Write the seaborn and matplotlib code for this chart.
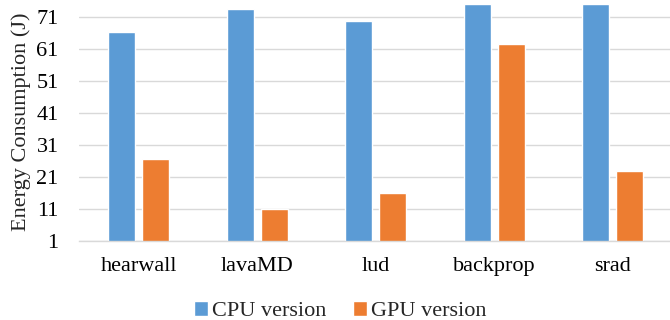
import pandas as pd
import matplotlib
matplotlib.use('Agg')
import matplotlib.pyplot as plt
import seaborn as sns

# ===== 数据 =====
benchmarks = ['hearwall', 'lavaMD', 'lud', 'backprop', 'srad']
cpu_energy = [66.4, 73.4, 69.6, 75.0, 75.0]
gpu_energy = [26.6, 11.0, 16.0, 62.6, 22.9]
y_ticks = [1, 11, 21, 31, 41, 51, 61, 71]

# ===== 样式参数 =====
FONT_SIZE = 16
CPU_COLOR = '#5B9BD5'
GPU_COLOR = '#ED7D31'
GRID_COLOR = '#D9D9D9'

sns.set_style('white')
plt.rcParams['font.family'] = ['Liberation Serif', 'DejaVu Serif']

df = pd.DataFrame({
    'bench': benchmarks * 2,
    'energy': cpu_energy + gpu_energy,
    'version': ['CPU version'] * len(benchmarks) + ['GPU version'] * len(benchmarks),
})

fig = plt.figure(figsize=(6.7, 3.2), dpi=100)
ax = fig.add_axes([79.4 / 670, 1 - 241.3 / 320, 592.6 / 670, 237.3 / 320])

sns.barplot(
    data=df, x='bench', y='energy', hue='version',
    palette=[CPU_COLOR, GPU_COLOR], width=0.574, gap=0.216,
    saturation=1, errorbar=None, ax=ax,
)

ax.set_ylim(1, 75)
ax.set_yticks(y_ticks)
ax.set_xlim(-0.5, 4.5)
ax.yaxis.grid(True, color=GRID_COLOR, linewidth=1)
ax.set_axisbelow(True)
for side in ['top', 'right', 'left']:
    ax.spines[side].set_visible(False)
ax.spines['bottom'].set_color(GRID_COLOR)
ax.spines['bottom'].set_linewidth(1)

ax.tick_params(axis='both', length=0, labelsize=FONT_SIZE, colors='black')
ax.tick_params(axis='x', pad=11.5)
ax.tick_params(axis='y', pad=15)
ax.set_xlabel('')
ax.set_ylabel('Energy Consumption (J)', fontsize=FONT_SIZE)
ax.yaxis.set_label_coords(-0.082, 0.505)

handles, labels = ax.get_legend_handles_labels()
ax.get_legend().remove()
fig.legend(
    handles, labels, loc='center', bbox_to_anchor=(340 / 670, 1 - 311 / 320),
    ncol=2, frameon=False, fontsize=FONT_SIZE,
    handlelength=0.65, handleheight=0.65, handletextpad=0.15, columnspacing=1.2,
)

plt.savefig('out.png', dpi=100)
